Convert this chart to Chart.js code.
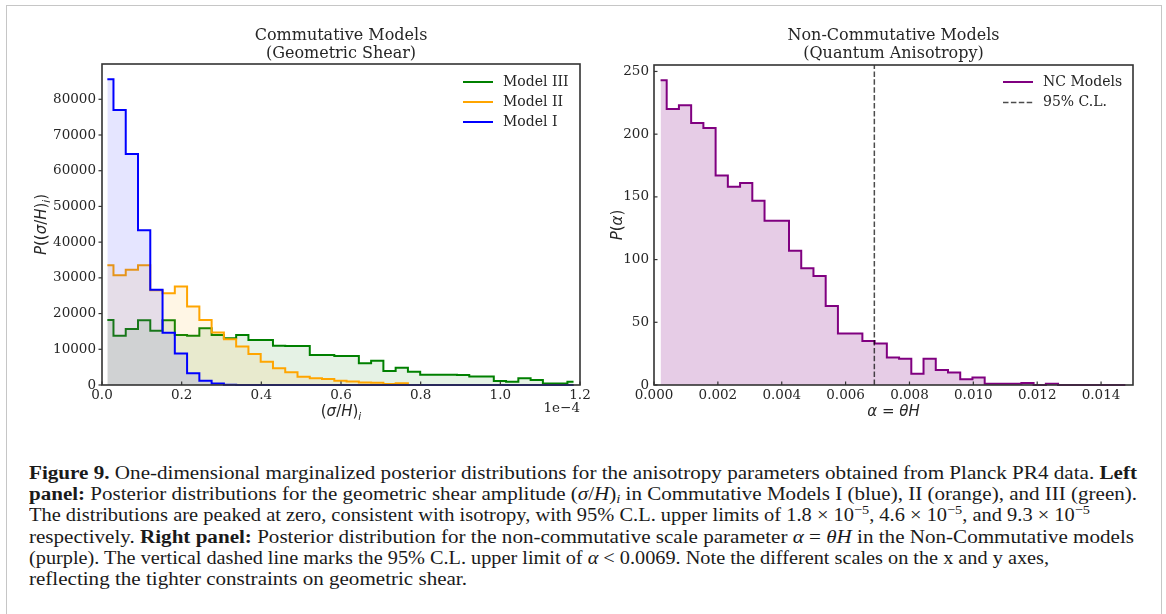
<!DOCTYPE html>
<html>
<head>
<meta charset="utf-8">
<script src="https://cdn.jsdelivr.net/npm/chart.js@4.4.1/dist/chart.umd.min.js"></script>
<style>
  html, body { margin: 0; padding: 0; background: #fff; }
  body { width: 1166px; height: 614px; position: relative; overflow: hidden; }
  #frame { position: absolute; left: 6px; top: 5px; width: 1156px; height: 660px;
           border: 1.5px solid #c6c6c6; box-sizing: border-box; }
  canvas { position: absolute; top: 0; }
  #leftCanvas { left: 0; }
  #rightCanvas { left: 600px; }
  #caption { position: absolute; left: 29px; top: 463px;
             font-family: "Liberation Serif", "Times New Roman", serif;
             font-size: 18.5px; color: #1a1a1a; }
  .cl { position: absolute; left: 0; white-space: nowrap; line-height: 21.2px;
        transform-origin: 0 0; }
  .cl sup { font-size: 70%; line-height: 0; vertical-align: 0.55em; }
  .cl sub { font-size: 70%; line-height: 0; vertical-align: -0.25em; }
</style>
</head>
<body>
<div id="frame"></div>
<canvas id="leftCanvas" width="600" height="430"></canvas>
<canvas id="rightCanvas" width="566" height="430"></canvas>

<div id="caption">
  <div class="cl"><b>Figure 9.</b> One-dimensional marginalized posterior distributions for the anisotropy parameters obtained from Planck PR4 data. <b>Left</b></div>
  <div class="cl"><b>panel:</b> Posterior distributions for the geometric shear amplitude (<i>σ</i>/<i>H</i>)<sub><i>i</i></sub> in Commutative Models I (blue), II (orange), and III (green).</div>
  <div class="cl">The distributions are peaked at zero, consistent with isotropy, with 95% C.L. upper limits of 1.8 × 10<sup>−5</sup>, 4.6 × 10<sup>−5</sup>, and 9.3 × 10<sup>−5</sup></div>
  <div class="cl">respectively. <b>Right panel:</b> Posterior distribution for the non-commutative scale parameter <i>α</i> = <i>θH</i> in the Non-Commutative models</div>
  <div class="cl">(purple). The vertical dashed line marks the 95% C.L. upper limit of <i>α</i> &lt; 0.0069. Note the different scales on the x and y axes,</div>
  <div class="cl">reflecting the tighter constraints on geometric shear.</div>
</div>

<script>
// ---- Commutative models: posterior of (sigma/H)_i, bin centres in units of 1e-4 ----
const shearStart = 0.0134;
const shearWidth = 0.0308;
const modelI   = [85600, 77000, 64700, 43300, 26700, 14600, 8800, 3300, 1200, 400,
                  100, 0, 0, 0, 0, 0, 0, 0, 0, 0,
                  0, 0, 0, 0, 0, 0, 0, 0, 0, 0,
                  0, 0, 0, 0, 0, 0, 0, 0, 0];
const modelII  = [33500, 30700, 32300, 33500, 26500, 25700, 27600, 22000, 18200, 14700,
                  12800, 10800, 8700, 6500, 4700, 3600, 2300, 1900, 1700, 1200,
                  1000, 700, 600, 300, 500, 0, 0, 0, 0, 0,
                  0, 0, 0, 0, 0, 0, 0, 0, 0];
const modelIII = [18200, 13800, 15700, 18100, 15200, 18100, 14000, 13800, 15900, 14000,
                  13100, 14000, 12600, 12600, 11000, 10900, 10900, 8400, 8400, 8100,
                  8100, 6100, 6800, 3900, 4800, 3700, 2900, 2900, 2900, 2800,
                  2400, 2400, 1100, 900, 1900, 1400, 400, 400, 900];
const shearXTicks = [0.0, 0.2, 0.4, 0.6, 0.8, 1.0, 1.2];
const shearYTicks = [0, 10000, 20000, 30000, 40000, 50000, 60000, 70000, 80000];
const shearExponent = '1e\u22124';

// ---- Non-commutative models: posterior of alpha = theta*H ----
const alphaStart = 0.000206;
const alphaWidth = 0.000383;
const ncModels = [243, 220, 223, 209, 205, 167, 158, 161, 147, 131,
                  131, 107, 93, 87, 63, 41, 41, 35, 33, 22,
                  21, 9, 21, 12, 10, 4.5, 6, 1, 1, 1,
                  1.5, 0, 1, 0, 0, 0, 0, 0, 0];
const alphaLimit95 = 0.0069;
const alphaXTicks = [0.000, 0.002, 0.004, 0.006, 0.008, 0.010, 0.012, 0.014];
const alphaYTicks = [0, 50, 100, 150, 200, 250];

const shearCentres = modelI.map((_, i) => shearStart + i * shearWidth);
const alphaCentres = ncModels.map((_, i) => alphaStart + i * alphaWidth);
const toPoints = (xs, ys) => xs.map((x, i) => ({ x: x, y: ys[i] }));

const INK = '#262626';
const SERIF = '"DejaVu Serif", serif';
const tickFont = { family: SERIF, size: 13.5 };

// math-style label: italic letters, upright punctuation, italic subscripts
function drawMath(ctx, segs, cx, cy, size, angle) {
  const fontFor = k => (k === 'r' ? '' : 'italic ') + (k === 's' ? size * 0.7 : size) + 'px "DejaVu Sans"';
  ctx.save();
  let total = 0;
  segs.forEach(([t, k]) => { ctx.font = fontFor(k); total += ctx.measureText(t).width; });
  ctx.translate(cx, cy);
  ctx.rotate(angle || 0);
  ctx.textAlign = 'left';
  ctx.textBaseline = 'alphabetic';
  ctx.fillStyle = INK;
  let x = -total / 2;
  const base = size * 0.36;
  segs.forEach(([t, k]) => {
    ctx.font = fontFor(k);
    ctx.fillText(t, x, base + (k === 's' ? size * 0.22 : 0));
    x += ctx.measureText(t).width;
  });
  ctx.restore();
}

// panel frame, tick marks, titles, axis labels and in-axes legend
const panelDecor = {
  id: 'panelDecor',
  afterDraw(chart, args, o) {
    const ctx = chart.ctx;
    const a = chart.chartArea;
    const xs = chart.scales.x, ys = chart.scales.y;
    ctx.save();
    // ticks
    ctx.strokeStyle = '#333';
    ctx.lineWidth = 1.2;
    xs.ticks.forEach(t => {
      const px = xs.getPixelForValue(t.value);
      ctx.beginPath();
      ctx.moveTo(px, a.bottom);
      ctx.lineTo(px, o.tickDir.x === 'in' ? a.bottom - 3.5 : a.bottom + 3.5);
      ctx.stroke();
    });
    ys.ticks.forEach(t => {
      const py = ys.getPixelForValue(t.value);
      ctx.beginPath();
      ctx.moveTo(a.left, py);
      ctx.lineTo(o.tickDir.y === 'in' ? a.left + 3.5 : a.left - 3.5, py);
      ctx.stroke();
    });
    // frame
    ctx.strokeStyle = '#333';
    ctx.lineWidth = 1.6;
    ctx.strokeRect(a.left, a.top, a.right - a.left, a.bottom - a.top);
    // titles
    ctx.fillStyle = INK;
    ctx.font = '16px ' + SERIF;
    ctx.textAlign = 'center';
    ctx.textBaseline = 'middle';
    const cx = (a.left + a.right) / 2;
    o.titles.forEach((t, i) => ctx.fillText(t, cx, o.titleY[i]));
    // axis labels
    drawMath(ctx, o.xLabel, cx, o.xLabelY, 15, 0);
    drawMath(ctx, o.yLabel, o.yLabelX, (a.top + a.bottom) / 2, 15, -Math.PI / 2);
    if (o.offsetText) {
      ctx.font = '13.5px ' + SERIF;
      ctx.textAlign = 'right';
      ctx.textBaseline = 'middle';
      ctx.fillStyle = INK;
      ctx.fillText(o.offsetText, a.right, o.offsetY);
    }
    // legend
    chart.data.datasets.forEach((ds, i) => {
      const y = o.legend.y + i * o.legend.gap;
      ctx.strokeStyle = ds.borderColor;
      ctx.lineWidth = ds.borderWidth || 2;
      ctx.setLineDash(ds.borderDash || []);
      ctx.beginPath();
      ctx.moveTo(o.legend.x, y);
      ctx.lineTo(o.legend.x + 30, y);
      ctx.stroke();
      ctx.setLineDash([]);
      ctx.fillStyle = INK;
      ctx.font = '14px ' + SERIF;
      ctx.textAlign = 'left';
      ctx.textBaseline = 'middle';
      ctx.fillText(ds.label, o.legend.x + 40, y);
    });
    ctx.restore();
  }
};

function histDataset(label, xs, ys, color, fill, order) {
  return {
    label: label, data: toPoints(xs, ys), borderColor: color, backgroundColor: fill,
    borderWidth: 2, stepped: 'middle', fill: 'origin', pointRadius: 0, clip: false, order: order
  };
}

function axisOptions(tickValues, fmt, pad, fitKey, fitSize, min, max) {
  return {
    type: 'linear', min: min, max: max,
    afterBuildTicks: s => { s.ticks = tickValues.map(v => ({ value: v })); },
    afterFit: s => { s[fitKey] = fitSize; },
    grid: { display: false, drawTicks: false },
    border: { display: false },
    ticks: { font: tickFont, color: INK, padding: pad, maxRotation: 0, autoSkip: false, callback: fmt }
  };
}

const shearYMax = 1.05 * Math.max(...modelI, ...modelII, ...modelIII);
const alphaYMax = 1.05 * Math.max(...ncModels);

new Chart(document.getElementById('leftCanvas'), {
  type: 'line',
  data: {
    datasets: [
      histDataset('Model III', shearCentres, modelIII, 'green', 'rgba(0,128,0,0.1)', 3),
      histDataset('Model II', shearCentres, modelII, 'orange', 'rgba(255,165,0,0.1)', 2),
      histDataset('Model I', shearCentres, modelI, 'blue', 'rgba(0,0,255,0.1)', 1)
    ]
  },
  options: {
    responsive: false, animation: false, devicePixelRatio: 1,
    layout: { padding: { top: 64, right: 20, left: 0, bottom: 0 } },
    plugins: {
      legend: { display: false }, tooltip: { enabled: false },
      panelDecor: {
        titles: ['Commutative Models', '(Geometric Shear)'], titleY: [35.5, 53.5],
        xLabel: [['(', 'r'], ['σ', 'i'], ['/', 'r'], ['H', 'i'], [')', 'r'], ['i', 's']], xLabelY: 411,
        yLabel: [['P', 'i'], ['((', 'r'], ['σ', 'i'], ['/', 'r'], ['H', 'i'], [')', 'r'], ['i', 's'], [')', 'r']], yLabelX: 41,
        offsetText: shearExponent, offsetY: 408,
        tickDir: { x: 'in', y: 'out' },
        legend: { x: 463, y: 82, gap: 20 }
      }
    },
    scales: {
      x: axisOptions(shearXTicks, v => v.toFixed(1), 2, 'height', 45, 0, 1.2),
      y: axisOptions(shearYTicks, v => String(v), 6, 'width', 102, 0, shearYMax)
    }
  },
  plugins: [panelDecor]
});

new Chart(document.getElementById('rightCanvas'), {
  type: 'line',
  data: {
    datasets: [
      histDataset('NC Models', alphaCentres, ncModels, 'purple', 'rgba(128,0,128,0.2)', 2),
      {
        label: '95% C.L.', data: [{ x: alphaLimit95, y: 0 }, { x: alphaLimit95, y: alphaYMax }],
        borderColor: 'rgba(0,0,0,0.7)', borderWidth: 1.5, borderDash: [5.5, 2.4],
        fill: false, pointRadius: 0, order: 1
      }
    ]
  },
  options: {
    responsive: false, animation: false, devicePixelRatio: 1,
    layout: { padding: { top: 65, right: 33, left: 0, bottom: 0 } },
    plugins: {
      legend: { display: false }, tooltip: { enabled: false },
      panelDecor: {
        titles: ['Non-Commutative Models', '(Quantum Anisotropy)'], titleY: [35.5, 53.5],
        xLabel: [['α', 'i'], [' = ', 'r'], ['θ', 'i'], ['H', 'i']], xLabelY: 411,
        yLabel: [['P', 'i'], ['(', 'r'], ['α', 'i'], [')', 'r']], yLabelX: 17,
        offsetText: null,
        tickDir: { x: 'in', y: 'in' },
        legend: { x: 403, y: 82, gap: 20.5 }
      }
    },
    scales: {
      x: axisOptions(alphaXTicks, v => v.toFixed(3), 2, 'height', 45, 0, 0.015),
      y: axisOptions(alphaYTicks, v => String(v), 5, 'width', 54, 0, alphaYMax)
    }
  },
  plugins: [panelDecor]
});

// caption lines: each line set to its own measure, like the typeset block
const captionWidths = [1108, 1108, 1061, 1105, 1020, 438];
document.querySelectorAll('#caption .cl').forEach((el, i) => {
  el.style.top = (i * 21.2) + 'px';
  const w = el.getBoundingClientRect().width;
  el.style.transform = 'scaleX(' + (captionWidths[i] / w) + ')';
});
</script>
</body>
</html>
